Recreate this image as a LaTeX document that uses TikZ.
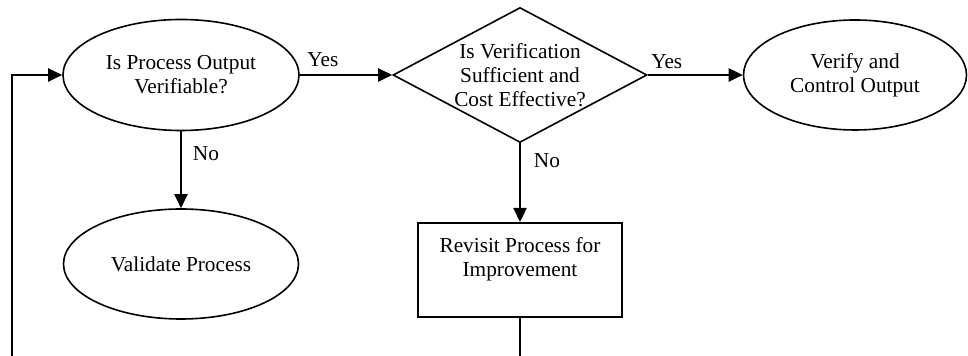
\documentclass[tikz,border=0pt]{standalone}
\usepackage{fontspec}
\setmainfont{Liberation Serif}
\usetikzlibrary{shapes.geometric,arrows.meta}
\begin{document}
\begin{tikzpicture}[x=0.5pt,y=-0.5pt,
  font=\fontsize{10.65}{12}\selectfont,
  shapebox/.style={draw=black, line width=0.8pt, inner sep=0pt, align=center},
  ell/.style={shapebox, ellipse},
  dia/.style={shapebox, diamond},
  rectbox/.style={shapebox, rectangle, line width=1pt},
  arr/.style={draw=black, line width=1.2pt, -{Triangle[length=7pt,width=6.5pt]}},
  lbl/.style={inner sep=0pt, align=center}]
\useasboundingbox (0,0) rectangle (968,356);
\clip (0,0) rectangle (968,356);

\node[ell, minimum width=118pt, minimum height=55.5pt] (q1) at (181,75) {Is Process Output\\Verifiable?};
\node[dia, minimum width=127pt, minimum height=67.5pt,
      label={[lbl]center:{Is Verification\\Sufficient and\\Cost Effective?}}] (d) at (520,75) {};
\node[ell, minimum width=111.5pt, minimum height=55pt] (v) at (855,75) {Verify and\\Control Output};
\node[ell, minimum width=117.5pt, minimum height=55pt] (val) at (181,264) {Validate Process};
\node[rectbox, minimum width=102pt, minimum height=47pt,
      label={[lbl, yshift=5.5pt]center:{Revisit Process for\\Improvement}}] (box) at (520,270) {};

\coordinate (lb) at (12,380);

\draw[arr] (q1.east) -- node[lbl, pos=0.25, yshift=7.5pt] (y1) {Yes} (d.west);
\draw[arr] (d.east) -- node[lbl, pos=0.2, yshift=6.5pt] (y2) {Yes} (v.west);
\draw[arr] (q1.south) -- node[lbl, pos=0.29, xshift=12.5pt] (n1) {No} (val.north);
\draw[arr] (d.south) -- node[lbl, pos=0.22, xshift=13.5pt] (n2) {No} (box.north);
\draw[arr, line width=1pt] (box.south) |- (lb) |- (q1.west);
\end{tikzpicture}
\end{document}
